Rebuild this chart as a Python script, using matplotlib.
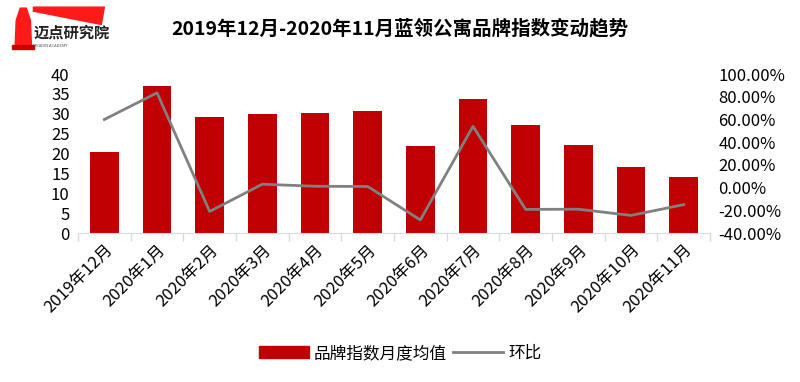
import numpy as np
import matplotlib.pyplot as plt
from matplotlib.patches import Polygon
from matplotlib.lines import Line2D
from matplotlib.patches import Patch

plt.rcParams['font.family'] = ['Noto Sans CJK SC', 'DejaVu Sans']

# Data
months = ['2019年12月', '2020年1月', '2020年2月', '2020年3月', '2020年4月', '2020年5月',
          '2020年6月', '2020年7月', '2020年8月', '2020年9月', '2020年10月', '2020年11月']
index_avg = [20.3, 37.0, 29.2, 30.0, 30.3, 30.7, 21.9, 33.7, 27.2, 22.1, 16.6, 14.1]
mom_pct = [60.0, 83.5, -21.0, 3.0, 1.2, 1.0, -28.5, 54.0, -19.2, -19.0, -24.5, -15.0]

bar_color = '#c00000'
line_color = '#808080'

fig = plt.figure(figsize=(8, 3.82), dpi=100)
ax = fig.add_axes([0.0975, 0.39, 0.79, 0.416])
x = np.arange(len(months))

ax.bar(x, index_avg, width=0.55, color=bar_color, zorder=2)
ax.set_xlim(-0.5, len(months) - 0.5)
ax.set_ylim(0, 40)
ax.set_yticks(range(0, 41, 5))
ax.tick_params(axis='y', length=0, labelsize=12, pad=6)
ax.set_xticks(x)
ax.set_xticklabels(months, rotation=45, ha='right', rotation_mode='anchor', fontsize=12)
ax.tick_params(axis='x', length=0, pad=6)
ax.set_xticks(np.arange(-0.5, len(months), 1), minor=True)
ax.tick_params(axis='x', which='minor', length=6, color='#d9d9d9', width=1)
for s in ['top', 'right', 'left']:
    ax.spines[s].set_visible(False)
ax.spines['bottom'].set_color('#d9d9d9')

ax2 = ax.twinx()
ax2.plot(x, mom_pct, color=line_color, lw=2, zorder=3)
ax2.set_ylim(-40, 100)
ax2.set_yticks(range(-40, 101, 20))
ax2.set_yticklabels([f'{v:.2f}%' for v in range(-40, 101, 20)])
ax2.tick_params(axis='y', length=0, labelsize=12, pad=6)
for s in ['top', 'right', 'left', 'bottom']:
    ax2.spines[s].set_visible(False)

fig.text(0.5, 0.925, '2019年12月-2020年11月蓝领公寓品牌指数变动趋势',
         ha='center', va='center', fontsize=14, fontweight='bold')

handles = [Patch(color=bar_color), Line2D([0], [0], color=line_color, lw=2)]
fig.legend(handles, ['品牌指数月度均值', '环比'], loc='center', bbox_to_anchor=(0.5, 0.075),
           ncol=2, frameon=False, fontsize=12, handlelength=3, columnspacing=0.4,
           handletextpad=0.3)

# logo
lax = fig.add_axes([0, 0.84, 0.19, 0.16])
lax.set_xlim(0, 150)
lax.set_ylim(60, 0)
lax.axis('off')
lax.add_patch(Polygon([[33, 7], [103, 7], [100, 24], [33, 11]], color='#ff1a1a'))
lax.add_patch(Polygon([[20, 8], [26, 8], [30, 20], [31, 44], [15, 44], [16, 20]], color='#ff1a1a'))
lax.add_patch(Polygon([[12, 44], [34, 44], [34, 48], [12, 48]], color='#cc0000'))
lax.text(33, 32, '迈点研究院', fontsize=11, fontweight='bold', va='center', color='#222222')
lax.text(33, 45, 'MEADIN ACADEMY', fontsize=3, va='center', color='#555555')

fig.savefig('out.png', dpi=100)
